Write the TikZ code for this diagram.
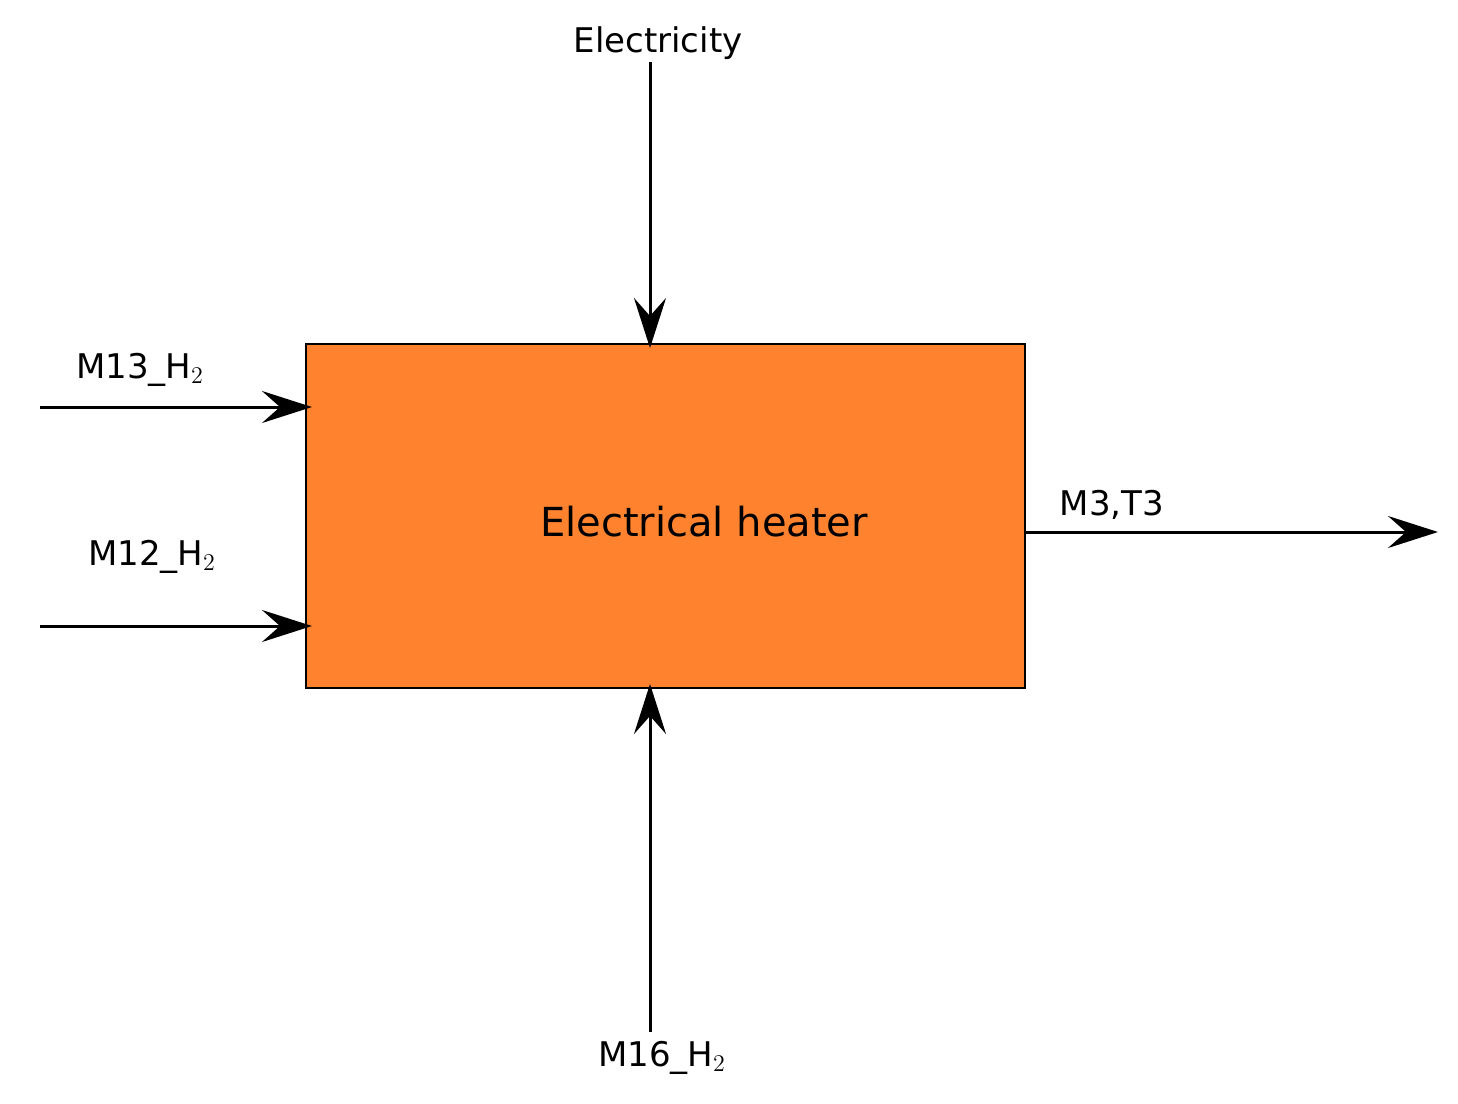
\documentclass[tikz,border=0pt]{standalone}
\usepackage{fontspec}
\setmainfont{DejaVu Sans}
\usetikzlibrary{arrows.meta}
\begin{document}
\begin{tikzpicture}[x=0.5pt,y=-0.5pt,
  flow/.style={line width=1.5pt,-{Stealth[length=25pt,width=16pt,inset=9pt]}},
  lbl/.style={font=\fontsize{17}{20}\selectfont,inner sep=0pt}]
\useasboundingbox (0,0) rectangle (1458,1104);
\node[draw=black,line width=1pt,fill={rgb,255:red,255;green,130;blue,46},minimum width=359.5pt,minimum height=172pt,inner sep=0pt] (box) at (665.5,516) {};
\node[font=\fontsize{20}{24}\selectfont,inner sep=0pt] (t) at (704,522) {Electrical heater};
\coordinate (e0) at (650,62); \coordinate (e1) at (650,348);
\coordinate (a0) at (40,407); \coordinate (a1) at (312,407);
\coordinate (b0) at (40,626); \coordinate (b1) at (312,626);
\coordinate (c0) at (650,1032); \coordinate (c1) at (650,684);
\coordinate (o0) at (1025,532); \coordinate (o1) at (1438,532);
\draw[flow] (e0) -- (e1);
\draw[flow] (a0) -- (a1);
\draw[flow] (b0) -- (b1);
\draw[flow] (c0) -- (c1);
\draw[flow] (o0) -- (o1);
\node[lbl] (le) at (658,43) {Electricity};
\node[lbl] (l13) at (140,370) {M13\_H$_2$};
\node[lbl] (l12) at (152,557) {M12\_H$_2$};
\node[lbl] (l3) at (1112,505) {M3,T3};
\node[lbl] (l16) at (662,1058) {M16\_H$_2$};
\end{tikzpicture}
\end{document}
